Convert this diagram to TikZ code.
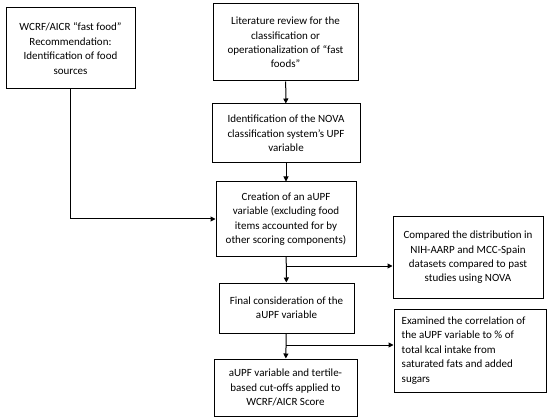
\documentclass[tikz,border=0pt]{standalone}
\usepackage{fontspec}
\setmainfont{Carlito}
\usetikzlibrary{arrows.meta}
\begin{document}
\begin{tikzpicture}[x=1pt,y=-1pt,
  box/.style={draw, line width=1pt, inner sep=2pt, align=center, font=\fontsize{11}{14.4}\selectfont},
  lbox/.style={box, align=left, inner xsep=8pt},
  arr/.style={draw, line width=1pt, -{Triangle[length=5pt,width=5pt]}},
  ln/.style={draw, line width=1pt}]
\useasboundingbox (0,0) rectangle (550,420);
\node[box, minimum width=129pt, minimum height=81pt] (wcrf) at (70.5,48.5) {WCRF/AICR “fast food”\\ Recommendation:\\ Identification of food\\ sources};
\node[box, minimum width=145pt, minimum height=77pt] (lit) at (285.5,42.5) {Literature review for the\\ classification or\\ operationalization of “fast\\ foods”};
\node[box, minimum width=148pt, minimum height=59pt] (nova) at (286,133.5) {Identification of the NOVA\\ classification system’s UPF\\ variable};
\node[box, minimum width=140pt, minimum height=74pt] (crea) at (286,219) {Creation of an aUPF\\ variable (excluding food\\ items accounted for by\\ other scoring components)};
\node[box, minimum width=150pt, minimum height=81pt] (comp) at (468,257.5) {Compared the distribution in\\ NIH-AARP and MCC-Spain\\ datasets compared to past\\ studies using NOVA};
\node[box, minimum width=135pt, minimum height=50pt] (fin) at (286.5,308) {Final consideration of the\\ aUPF variable};
\node[draw, line width=1pt, minimum width=152pt, minimum height=83pt] (exam) at (470,350.5) {};
\node[align=left, anchor=west, inner sep=0pt, font=\fontsize{11}{14.4}\selectfont] (examt) at ([xshift=8pt]exam.west) {Examined the correlation of\\ the aUPF variable to \% of\\ total kcal intake from\\ saturated fats and added\\ sugars};
\node[box, minimum width=143pt, minimum height=57pt] (aupf) at (285.5,387.5) {aUPF variable and tertile-\\ based cut-offs applied to\\ WCRF/AICR Score};
\coordinate (c1) at (286,266);
\coordinate (c2) at (286,345);
\draw[arr] (lit) -- (nova);
\draw[arr] (nova) -- (crea);
\draw[arr] (wcrf.south) |- (crea.west);
\draw[arr] (crea) -- (fin);
\draw[arr] (c1) -- (c1 -| comp.west);
\draw[arr] (fin) -- (aupf);
\draw[arr] (c2) -- (c2 -| exam.west);
\end{tikzpicture}
\end{document}
